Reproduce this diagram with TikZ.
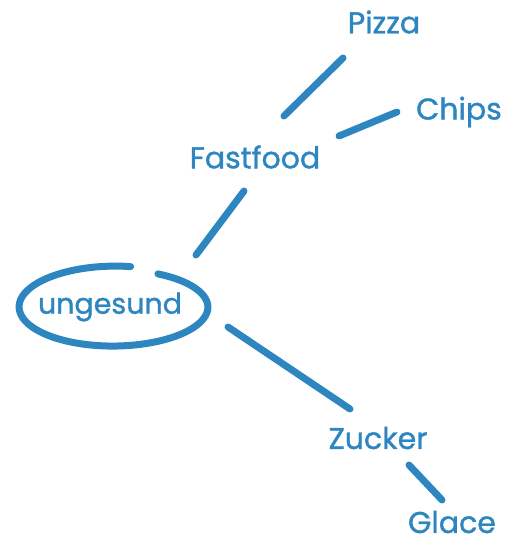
\documentclass[tikz,border=0pt]{standalone}
\usepackage{fontspec}
\newfontfamily\wordfont{Poppins}[FakeBold=1.2]
\definecolor{mapblue}{RGB}{46,134,193}
\begin{document}
\begin{tikzpicture}[x=1pt,y=-1pt,
  word/.style={text=mapblue,font=\wordfont\fontsize{30}{32}\selectfont,inner sep=0pt,anchor=center},
  link/.style={draw=mapblue,line width=7pt,line cap=round}]
\useasboundingbox (0,0) rectangle (515,544);
\node[word] (pizza) at (384,22) {Pizza};
\node[word] (chips) at (459,112) {Chips};
\node[word] (fastfood) at (255,157) {Fastfood};
\node[word,font=\wordfont\fontsize{28.5}{30}\selectfont] (ungesund) at (110,307) {ungesund};
\node[word] (zucker) at (378,438) {Zucker};
\node[word] (glace) at (452,522) {Glace};
% ellipse around ungesund (hand-drawn spiral)
\draw[link] plot[domain=62:-280,samples=120,smooth]
  ({114+(93.5+2*(\x-62)/(-342))*cos(\x)},{307-(37.5+3.5*(\x-62)/(-342))*sin(\x)});
% connector end points
\coordinate (p1) at (343,58);
\coordinate (p2) at (284,116);
\coordinate (c1) at (397,112);
\coordinate (c2) at (339,136);
\coordinate (f1) at (244,191);
\coordinate (f2) at (196,255);
\coordinate (z1) at (228,327);
\coordinate (z2) at (350,409);
\coordinate (g1) at (409,465);
\coordinate (g2) at (442,500);
\draw[link] (p1) -- (p2);
\draw[link] (c1) -- (c2);
\draw[link] (f1) -- (f2);
\draw[link] (z1) -- (z2);
\draw[link] (g1) -- (g2);
\end{tikzpicture}
\end{document}
